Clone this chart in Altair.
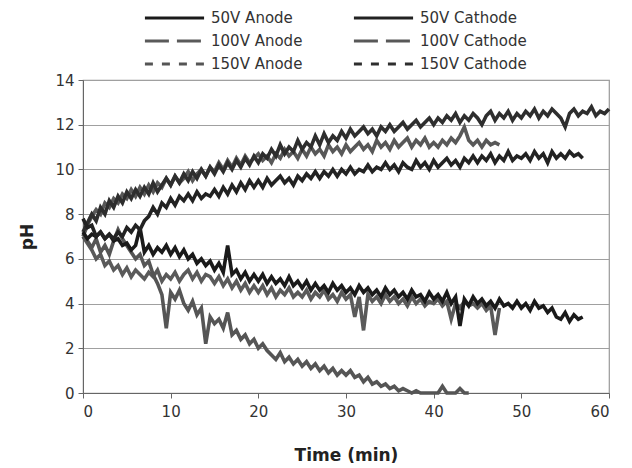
import altair as alt
import pandas as pd

STEP = 0.5  # sampling interval of the recorded traces (min)

series_names = ["50V Anode", "50V Cathode", "100V Anode", "100V Cathode", "150V Anode", "150V Cathode"]

cathode_50 = [
    7.8, 7.4, 7.5, 7.0, 7.2, 6.9, 7.1, 6.9, 7.2, 7.0,
    7.4, 7.2, 7.5, 7.3, 7.7, 7.9, 8.3, 8.0, 8.5, 8.3,
    8.7, 8.4, 8.8, 8.6, 8.9, 8.6, 9.0, 8.7, 8.9, 8.8,
    9.1, 8.8, 9.2, 8.9, 9.3, 9.0, 9.4, 9.1, 9.5, 9.2,
    9.5, 9.2, 9.6, 9.3, 9.5, 9.7, 9.4, 9.6, 9.3, 9.7,
    9.5, 9.8, 9.6, 9.9, 9.6, 9.9, 9.7, 10.0, 9.7, 10.0,
    9.8, 10.1, 9.8, 10.0, 9.9, 10.2, 9.9, 10.1, 10.0, 10.3,
    10.0, 10.2, 9.9, 10.3, 10.1, 10.0, 10.4, 10.1, 10.3, 10.0,
    10.4, 10.1, 10.3, 10.5, 10.2, 10.4, 10.1, 10.5, 10.3, 10.6,
    10.3, 10.6, 10.4, 10.7, 10.3, 10.6, 10.4, 10.8, 10.4, 10.6,
    10.5, 10.7, 10.4, 10.8, 10.5, 10.7, 10.3, 10.8, 10.5, 10.7,
    10.5, 10.8, 10.6, 10.7, 10.5,
]

cathode_150 = [
    7.2, 7.6, 8.0, 7.7, 8.3, 8.0, 8.6, 8.3, 8.8, 8.5,
    9.0, 8.7, 9.1, 8.8, 9.2, 8.9, 9.4, 9.0, 9.3, 9.6,
    9.3, 9.7, 9.4, 9.8, 9.5, 9.9, 9.6, 10.0, 9.7, 10.1,
    9.8, 10.2, 9.9, 10.3, 10.0, 10.4, 10.1, 10.5, 10.2, 10.6,
    10.3, 10.7, 10.5, 10.9, 10.6, 11.1, 10.7, 11.0, 10.8, 11.3,
    10.9, 11.2, 11.0, 11.5, 11.1, 11.6, 11.2, 11.5, 11.3, 11.7,
    11.4, 11.8, 11.5, 11.7, 11.9, 11.6, 11.8, 11.5, 11.9, 11.7,
    12.0, 11.7, 11.9, 12.1, 11.8, 12.0, 12.2, 11.9, 12.1, 12.3,
    12.0, 12.3, 12.1, 12.4, 12.2, 12.5, 12.1, 12.4, 12.2, 12.5,
    12.3, 12.0, 12.4, 12.6, 12.2, 12.5, 12.3, 12.6, 12.2, 12.5,
    12.3, 12.6, 12.4, 12.7, 12.3, 12.6, 12.4, 12.7, 12.5, 12.3,
    11.9, 12.5, 12.7, 12.4, 12.6, 12.5, 12.8, 12.4, 12.6, 12.5,
    12.7,
]

cathode_100 = [
    7.0, 7.5, 7.9, 8.2, 8.0, 8.5, 8.3, 8.7, 8.5, 8.9,
    8.7, 9.1, 8.8, 9.2, 8.9, 9.3, 9.0, 9.4, 9.2, 9.6,
    9.3, 9.7, 9.4, 9.6, 9.9, 9.5, 9.8, 10.0, 9.7, 10.1,
    9.9, 10.3, 10.0, 10.4, 10.1, 10.5, 10.2, 10.6, 10.3, 10.5,
    10.7, 10.4, 10.6, 10.3, 10.7, 10.5, 10.9, 10.6, 10.8, 10.5,
    10.9, 10.6, 11.0, 10.7, 10.9, 10.6, 11.1, 10.8, 11.0, 10.7,
    11.1, 10.8, 11.0, 11.2, 10.9, 11.1, 10.8, 11.3, 11.0, 11.2,
    10.9, 11.3, 11.0, 11.2, 11.4, 11.0, 11.3, 11.1, 11.4, 11.0,
    11.2, 11.0, 11.3, 11.1, 11.4, 11.2, 11.5, 11.9, 11.3, 11.1,
    11.3, 11.0, 11.3, 11.1, 11.2, 11.1,
]

anode_50 = [
    7.2, 6.9, 7.1, 7.0, 7.2, 6.9, 7.1, 6.8, 6.9, 6.6,
    6.7, 6.4, 6.6, 7.4, 6.3, 6.6, 6.2, 6.5, 6.3, 6.6,
    6.2, 6.5, 6.1, 6.4, 6.0, 6.2, 5.8, 6.0, 5.7, 5.9,
    5.5, 5.8, 5.4, 6.6, 5.3, 5.5, 5.1, 5.4, 5.0, 5.3,
    5.0, 5.3, 4.9, 5.2, 4.9, 5.1, 4.8, 5.2, 4.8, 5.0,
    4.7, 5.0, 4.6, 4.9, 4.6, 4.8, 4.5, 4.9, 4.6, 4.8,
    4.5, 4.7, 4.4, 4.8, 4.5, 4.7, 4.4, 4.6, 4.3, 4.7,
    4.4, 4.6, 4.3, 4.5, 4.2, 4.6, 4.3, 4.4, 4.1, 4.5,
    4.2, 4.4, 4.1, 4.5, 4.0, 4.3, 3.0, 4.2, 3.9, 4.3,
    4.0, 4.2, 3.9, 4.1, 3.8, 4.2, 3.9, 4.0, 3.8, 4.1,
    3.8, 4.0, 3.7, 4.1, 3.8, 3.9, 3.6, 3.8, 3.4, 3.3,
    3.6, 3.2, 3.5, 3.3, 3.4,
]

anode_100 = [
    7.0, 6.7, 6.4, 6.0, 6.2, 5.7, 5.9, 5.5, 5.7, 5.3,
    5.6, 5.2, 5.5, 5.3, 5.1, 5.4, 5.2, 5.5, 5.0, 5.3,
    5.1, 5.4, 5.0, 5.3, 5.5, 5.1, 5.4, 5.0, 5.3, 5.2,
    4.9, 5.2, 4.8, 5.1, 4.7, 5.0, 4.6, 4.9, 4.5, 4.8,
    4.5, 4.8, 4.4, 4.7, 4.3, 4.6, 4.4, 4.7, 4.3, 4.5,
    4.3, 4.6, 4.2, 4.5, 4.3, 4.6, 4.2, 4.4, 4.1, 4.5,
    4.2, 4.4, 3.4, 4.3, 2.8, 4.4, 4.1, 4.3, 4.0, 4.4,
    4.1, 4.3, 4.0, 4.2, 3.9, 4.3, 4.0, 4.2, 3.9, 4.1,
    4.0, 4.2, 3.9, 4.1, 3.3, 4.0, 3.8, 4.1, 3.9, 4.0,
    3.8, 4.0, 3.7, 3.9, 2.6, 3.8,
]

anode_150 = [
    7.0, 6.8, 6.5, 6.9, 6.3, 6.6, 6.2, 6.8, 7.3, 6.9,
    6.6, 6.3, 6.0, 6.2, 5.7, 5.9, 5.3, 4.9, 4.4, 2.9,
    4.5, 4.2, 4.6, 4.0, 3.7, 4.1, 3.5, 3.8, 2.2, 3.4,
    3.1, 3.3, 2.9, 3.6, 2.6, 2.8, 2.4, 2.6, 2.2, 2.4,
    2.0, 2.2, 1.9, 1.7, 1.5, 1.8, 1.4, 1.6, 1.3, 1.5,
    1.2, 1.4, 1.1, 1.3, 1.0, 1.2, 0.9, 1.1, 0.8, 1.0,
    0.8, 1.0, 0.7, 0.8, 0.5, 0.7, 0.4, 0.5, 0.3, 0.4,
    0.2, 0.3, 0.1, 0.2, 0.1, 0.0, 0.1, 0.0, 0.0, 0.0,
    0.0, 0.0, 0.3, 0.0, 0.0, 0.0, 0.2, 0.0, 0.0,
]

colors = ["#1a1a1a", "#222222", "#5a5a5a", "#585858", "#555555", "#2e2e2e"]
dashes = [[1, 0], [1, 0], [24, 8], [24, 8], [8, 9], [8, 9]]

# draw order: gray traces first, black traces on top
draw = [
    ("100V Cathode", cathode_100),
    ("100V Anode", anode_100),
    ("150V Anode", anode_150),
    ("150V Cathode", cathode_150),
    ("50V Anode", anode_50),
    ("50V Cathode", cathode_50),
]

rows = []
for name, vals in draw:
    for i, v in enumerate(vals):
        rows.append({"series": name, "t": i * STEP, "pH": v})
df = pd.DataFrame(rows)
# one row per series: feeds the legend layer only (a one-point line draws nothing)
df_first = df.groupby("series", as_index=False).first()

FONT = "DejaVu Sans"

x_enc = alt.X("t:Q", scale=alt.Scale(domain=[0, 60], nice=False),
              axis=alt.Axis(values=[0, 10, 20, 30, 40, 50, 60], title="Time (min)",
                            grid=False, labelFontSize=15, titleFontSize=17,
                            titleFontWeight="bold", titlePadding=28, labelPadding=6))
y_enc = alt.Y("pH:Q", scale=alt.Scale(domain=[0, 14], nice=False),
              axis=alt.Axis(values=[0, 2, 4, 6, 8, 10, 12, 14], title="pH",
                            grid=True, labelFontSize=15, titleFontSize=17,
                            titleFontWeight="bold", titlePadding=18, labelPadding=4))
color_scale = alt.Scale(domain=series_names, range=colors)
legend = alt.Legend(title=None, orient="none", legendX=60, legendY=-72,
                    direction="horizontal", columns=2,
                    symbolType="stroke", symbolSize=3500, clipHeight=20,
                    symbolStrokeWidth=3.2, labelFontSize=15,
                    columnPadding=49, rowPadding=3, labelOffset=5,
                    labelColor="#333333")

lines = alt.Chart(df).mark_line(strokeWidth=3.6).encode(
    x=x_enc, y=y_enc,
    color=alt.Color("series:N", scale=color_scale, legend=legend),
    detail="series:N",
)

legend_layer = alt.Chart(df_first).mark_line(strokeWidth=3.2).encode(
    x="t:Q", y="pH:Q",
    color=alt.Color("series:N", scale=color_scale, legend=legend),
    strokeDash=alt.StrokeDash("series:N", scale=alt.Scale(domain=series_names, range=dashes),
                              legend=legend),
)

chart = alt.layer(lines, legend_layer).properties(
    width=526, height=313,
    autosize=alt.AutoSizeParams(type="none"),
    padding={"left": 83, "top": 80, "right": 23, "bottom": 75},
).configure(font=FONT).configure_axis(
    domainColor="#666666", tickColor="#666666", gridColor="#a0a0a0", gridWidth=1.2,
    labelColor="#333333", titleColor="#222222", labelFont=FONT, titleFont=FONT, tickSize=5,
).configure_view(stroke="#999999", strokeWidth=1.2).configure_legend(labelFont=FONT)

chart.save("out.html", embed_options={"renderer": "svg", "actions": False})
